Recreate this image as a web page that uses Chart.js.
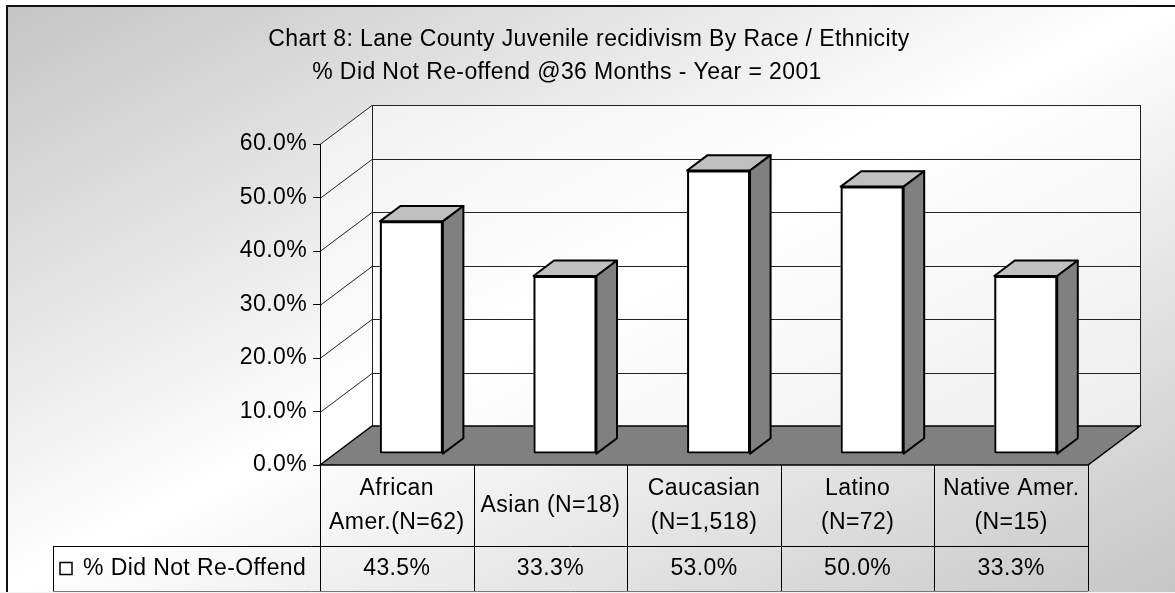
<!DOCTYPE html>
<html>
<head>
<meta charset="utf-8">
<script src="https://cdn.jsdelivr.net/npm/chart.js@4.4.1/dist/chart.umd.min.js"></script>
<style>
  html, body { margin: 0; padding: 0; background: #fff; overflow: hidden; }
  canvas { display: block; }
</style>
</head>
<body>
<canvas id="c" width="1175" height="593"></canvas>
<script>
// ---- data ----
const titleLines = [
  'Chart 8: Lane County Juvenile recidivism By Race / Ethnicity',
  '% Did Not Re-offend @36 Months - Year = 2001'
];
const categories = [
  ['African', 'Amer.(N=62)'],
  ['Asian (N=18)'],
  ['Caucasian', '(N=1,518)'],
  ['Latino', '(N=72)'],
  ['Native Amer.', '(N=15)']
];
const seriesName = '% Did Not Re-Offend';
const didNotReoffend = [43.5, 33.3, 53.0, 50.0, 33.3];
const yTicks = [0, 10, 20, 30, 40, 50, 60];

// ---- look ----
const FAMILY = '"Liberation Sans", Arial, sans-serif';
const FONT = '23px ' + FAMILY;
const SPACING = '0.4px';
const DEPTH = { dx: 52, dy: -39 };   // floor / wall depth
const BAR_FRONT = 0.28;              // where the bar front sits within the depth
const BAR_DEPTH = 0.395;             // bar thickness as a share of the depth

const box3d = {
  id: 'box3d',
  beforeDraw(chart) {
    const ctx = chart.ctx;
    const { left: L, right: R, top: T, bottom: B } = chart.chartArea;
    const y = chart.scales.y;
    ctx.save();
    // page background with diagonal gradient, framed
    const g = ctx.createLinearGradient(349, -176, 826, 769);
    g.addColorStop(0, '#c4c4c4');
    g.addColorStop(0.5, '#ffffff');
    g.addColorStop(1, '#c6c6c6');
    ctx.fillStyle = g;
    ctx.fillRect(7, 6, chart.width, chart.height);
    ctx.strokeStyle = '#111';
    ctx.lineWidth = 2;
    ctx.strokeRect(7, 6, chart.width + 20, chart.height + 20);

    const dx = DEPTH.dx, dy = DEPTH.dy;
    // back wall and side wall
    ctx.fillStyle = 'rgba(255,255,255,0.55)';
    ctx.beginPath();
    ctx.rect(L + dx, T + dy, R - L, B - T);
    ctx.fill();
    ctx.beginPath();
    ctx.moveTo(L, B); ctx.lineTo(L, T); ctx.lineTo(L + dx, T + dy); ctx.lineTo(L + dx, B + dy);
    ctx.closePath();
    ctx.fill();

    // gridlines across both walls
    ctx.strokeStyle = '#222';
    ctx.lineWidth = 1;
    yTicks.forEach(v => {
      const py = Math.round(y.getPixelForValue(v)) + 0.5;
      ctx.beginPath();
      ctx.moveTo(L, py);
      ctx.lineTo(L + dx, py + dy);
      ctx.lineTo(R + dx, py + dy);
      ctx.stroke();
    });
    // wall edges
    ctx.beginPath();
    ctx.moveTo(Math.round(L + dx) + 0.5, T + dy);
    ctx.lineTo(Math.round(L + dx) + 0.5, B + dy);
    ctx.moveTo(Math.round(R + dx) + 0.5, T + dy);
    ctx.lineTo(Math.round(R + dx) + 0.5, B + dy);
    ctx.stroke();

    // floor
    ctx.fillStyle = '#808080';
    ctx.strokeStyle = '#000';
    ctx.lineWidth = 1.5;
    ctx.beginPath();
    ctx.moveTo(L, B); ctx.lineTo(L + dx, B + dy); ctx.lineTo(R + dx, B + dy); ctx.lineTo(R, B);
    ctx.closePath();
    ctx.fill();
    ctx.stroke();
    ctx.restore();
    ctx.letterSpacing = SPACING;
  },
  beforeDatasetDraw(chart) {
    const ctx = chart.ctx;
    ctx.save();
    ctx.translate(DEPTH.dx * BAR_FRONT, DEPTH.dy * BAR_FRONT);
  },
  afterDatasetDraw(chart, args) {
    const ctx = chart.ctx;
    const bdx = DEPTH.dx * BAR_DEPTH, bdy = DEPTH.dy * BAR_DEPTH;
    ctx.lineWidth = 2;
    ctx.lineJoin = 'round';
    ctx.strokeStyle = '#000';
    args.meta.data.forEach(el => {
      const { x, y, base, width } = el.getProps(['x', 'y', 'base', 'width'], true);
      const l = x - width / 2, r = x + width / 2;
      // top face
      ctx.beginPath();
      ctx.moveTo(l, y); ctx.lineTo(r, y); ctx.lineTo(r + bdx, y + bdy); ctx.lineTo(l + bdx, y + bdy);
      ctx.closePath();
      ctx.fillStyle = '#c0c0c0';
      ctx.fill();
      ctx.stroke();
      // side face
      ctx.beginPath();
      ctx.moveTo(r, y); ctx.lineTo(r + bdx, y + bdy); ctx.lineTo(r + bdx, base + bdy); ctx.lineTo(r, base);
      ctx.closePath();
      ctx.fillStyle = '#808080';
      ctx.fill();
      ctx.stroke();
      // front outline
      ctx.strokeRect(l + 1, y + 1, width - 2, base - y - 2);
    });
    ctx.restore();
  },
  afterDraw(chart) {
    const ctx = chart.ctx;
    const { left: L, right: R, bottom: B } = chart.chartArea;
    const xs = chart.scales.x;
    const n = categories.length;
    const cw = (R - L) / n;
    const headBottom = 546, tableBottom = 591, legendLeft = 53;
    ctx.save();
    ctx.letterSpacing = SPACING;
    ctx.font = FONT;
    ctx.fillStyle = '#000';
    ctx.textBaseline = 'middle';

    // title
    ctx.textAlign = 'center';
    ctx.fillText(titleLines[0], 589, 40);
    ctx.fillText(titleLines[1], 567, 73);

    // data table grid
    ctx.strokeStyle = '#000';
    ctx.lineWidth = 1;
    ctx.beginPath();
    for (let k = 0; k <= n; k++) {
      const px = Math.round(L + k * cw) + 0.5;
      ctx.moveTo(px, B);
      ctx.lineTo(px, tableBottom);
    }
    ctx.moveTo(legendLeft + 0.5, headBottom);
    ctx.lineTo(legendLeft + 0.5, tableBottom);
    ctx.moveTo(legendLeft, headBottom + 0.5);
    ctx.lineTo(R, headBottom + 0.5);
    ctx.stroke();
    ctx.strokeStyle = '#777';
    ctx.beginPath();
    ctx.moveTo(legendLeft, tableBottom + 0.5);
    ctx.lineTo(R, tableBottom + 0.5);
    ctx.stroke();
    ctx.fillStyle = '#f4f4f4';
    ctx.fillRect(0, tableBottom + 1, chart.width, 2);

    // category headers and values
    ctx.fillStyle = '#000';
    const headMid = (B + headBottom) / 2;
    categories.forEach((lines, i) => {
      const cx = xs.getPixelForValue(i);
      const startY = headMid - (lines.length - 1) * 17;
      lines.forEach((t, j) => ctx.fillText(t, cx, startY + j * 34));
      ctx.fillText(didNotReoffend[i].toFixed(1) + '%', cx, (headBottom + tableBottom) / 2);
    });

    // legend key
    const midRow = (headBottom + tableBottom) / 2;
    ctx.fillStyle = '#fff';
    ctx.fillRect(60, midRow - 6, 12, 12);
    ctx.strokeStyle = '#000';
    ctx.lineWidth = 1.5;
    ctx.strokeRect(60, midRow - 6, 12, 12);
    ctx.fillStyle = '#000';
    ctx.textAlign = 'left';
    ctx.fillText(seriesName, 83, midRow);
    ctx.restore();
  }
};

new Chart(document.getElementById('c'), {
  type: 'bar',
  data: {
    labels: categories,
    datasets: [{
      label: seriesName,
      data: didNotReoffend,
      backgroundColor: '#ffffff',
      borderColor: '#000000',
      borderWidth: 0,
      borderSkipped: false,
      barPercentage: 0.41,
      categoryPercentage: 1,
      clip: false
    }]
  },
  options: {
    responsive: false,
    animation: false,
    devicePixelRatio: 1,
    layout: { padding: { left: 0, right: 87, top: 144, bottom: 128 } },
    plugins: {
      legend: { display: false },
      title: { display: false },
      tooltip: { enabled: false }
    },
    scales: {
      x: { display: false },
      y: {
        min: 0,
        max: 60,
        afterBuildTicks(scale) { scale.ticks = yTicks.map(v => ({ value: v })); },
        afterFit(scale) { scale.width = 320; },
        ticks: {
          color: '#000',
          font: { family: FAMILY, size: 23 },
          padding: 6,
          callback: v => v.toFixed(1) + '%'
        },
        grid: { drawOnChartArea: false, drawTicks: true, tickLength: 7, tickColor: '#000' },
        border: { display: true, color: '#000', width: 1 }
      }
    }
  },
  plugins: [box3d]
});
</script>
</body>
</html>
